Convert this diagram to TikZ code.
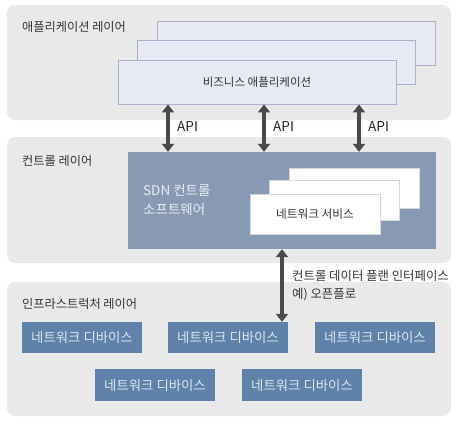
\documentclass[tikz,border=0pt]{standalone}
\usepackage{fontspec}
\setmainfont{Noto Sans CJK KR}
\usetikzlibrary{arrows.meta}
\definecolor{layerbg}{HTML}{E9E9EA}
\definecolor{appfill}{HTML}{E7E9F5}
\definecolor{appline}{HTML}{A9B2CA}
\definecolor{sdnfill}{HTML}{8899B4}
\definecolor{sdntext}{HTML}{E8EDF3}
\definecolor{devfill}{HTML}{5F82AA}
\definecolor{devtext}{HTML}{DCE4EE}
\definecolor{nsline}{HTML}{D3D7DE}
\definecolor{arrowc}{HTML}{4A4A4A}
\definecolor{labeltext}{HTML}{333333}
\tikzset{
  layerbox/.style={fill=layerbg, rounded corners=8pt, inner sep=0pt, minimum width=444pt},
  appbox/.style={fill=appfill, draw=appline, line width=0.9pt, inner sep=0pt, minimum width=278pt, minimum height=44pt, font=\fontsize{11.5}{13}\selectfont, text=labeltext},
  sdnbox/.style={fill=sdnfill, inner sep=0pt, minimum width=308pt, minimum height=97pt},
  nsbox/.style={fill=white, draw=nsline, line width=0.5pt, inner sep=0pt, minimum width=130pt, minimum height=40pt, font=\fontsize{11.7}{13}\selectfont, text=labeltext},
  devbox/.style={fill=devfill, inner sep=0pt, minimum width=120pt, minimum height=31pt, font=\fontsize{13.4}{15}\selectfont, text=devtext},
  layerlabel/.style={anchor=west, inner sep=0pt, font=\fontsize{12.2}{14}\selectfont, text=labeltext},
  apilabel/.style={anchor=west, inner sep=0pt, font=\fontsize{13.6}{15}\selectfont, text=black!85},
  dblarrow/.style={draw=arrowc, line width=4pt, {Triangle[width=12pt,length=8pt]}-{Triangle[width=12pt,length=8pt]}}
}
\begin{document}
\begin{tikzpicture}[x=1pt,y=-1pt]
\useasboundingbox (0,0) rectangle (459,424);
% layers
\node[layerbox, minimum height=115pt] (L1) at (229,62.5) {};
\node[layerbox, minimum height=126pt] (L2) at (229,200) {};
\node[layerbox, minimum height=134pt] (L3) at (229,349) {};
\node[layerlabel] (L1t) at (22,26.5) {애플리케이션 레이어};
\node[layerlabel] (L2t) at (22,160.5) {컨트롤 레이어};
\node[layerlabel] (L3t) at (22,303.5) {인프라스트럭처 레이어};
% application boxes
\node[appbox] (app3) at (296,43) {};
\node[appbox] (app2) at (276.5,62.5) {};
\node[appbox] (app1) at (257,82) {비즈니스 애플리케이션};
% SDN
\node[sdnbox] (sdn) at (282,200.5) {};
\node[anchor=west, inner sep=0pt, align=left, text=sdntext, font=\fontsize{13.5}{18.5}\selectfont] (sdnt) at (143,200) {SDN 컨트롤\\소프트웨어};
\node[nsbox] (ns3) at (354,188) {};
\node[nsbox] (ns2) at (334.5,200.5) {};
\node[nsbox] (ns1) at (315,214) {네트워크 서비스};
% devices
\node[devbox] (dev1) at (82,337.5) {네트워크 디바이스};
\node[devbox] (dev2) at (228,337.5) {네트워크 디바이스};
\node[devbox] (dev3) at (375,337.5) {네트워크 디바이스};
\node[devbox, minimum height=32pt] (dev4) at (155,385) {네트워크 디바이스};
\node[devbox, minimum height=32pt] (dev5) at (302,385) {네트워크 디바이스};
% API arrows
\coordinate (ax1) at (168,0);
\coordinate (ax2) at (264,0);
\coordinate (ax3) at (359,0);
\coordinate (ax4) at (282,0);
\draw[dblarrow] (app1.south -| ax1) -- (sdn.north -| ax1);
\draw[dblarrow] (app1.south -| ax2) -- (sdn.north -| ax2);
\draw[dblarrow] (app1.south -| ax3) -- (sdn.north -| ax3);
\node[apilabel] (api1) at (177,127) {API};
\node[apilabel] (api2) at (273,127) {API};
\node[apilabel] (api3) at (368,127) {API};
% southbound
\draw[dblarrow] (sdn.south -| ax4) -- (dev2.north -| ax4);
\node[anchor=west, inner sep=0pt, align=left, text=labeltext, font=\fontsize{12.4}{18}\selectfont] (sbt) at (292,286) {컨트롤 데이터 플랜 인터페이스\\예) 오픈플로};
\end{tikzpicture}
\end{document}
